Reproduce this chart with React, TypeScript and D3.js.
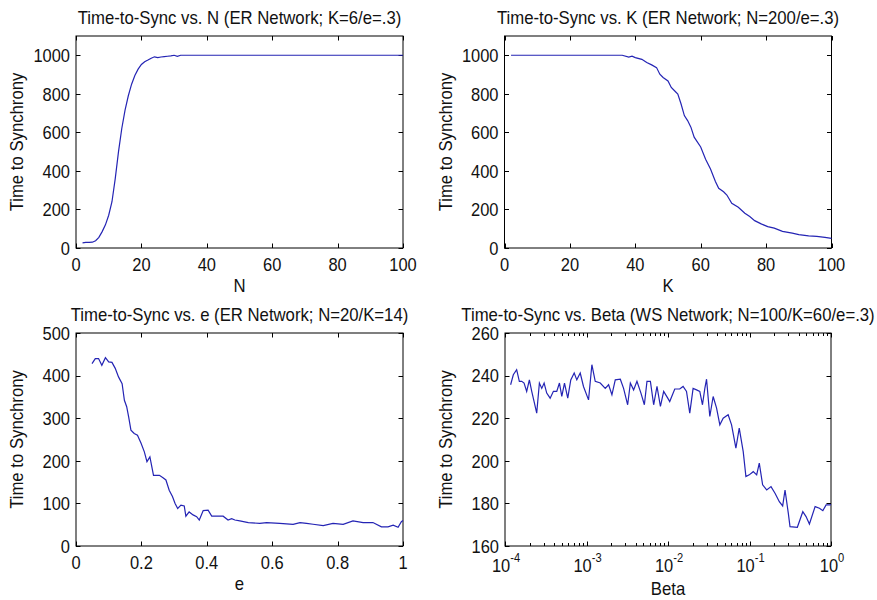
import { useEffect, useRef } from 'react';
import * as d3 from 'd3';

// panel 1: time to sync vs N (ER network, K=6, e=.3)
const nValues = [2, 3, 4, 5, 6, 7, 8, 9, 10, 11, 12, 13, 14, 15, 16, 17, 18, 19, 20, 21, 22, 23, 24, 25, 26, 27, 28, 29, 30, 31, 32, 100];
const nSync = [27, 29, 29, 30, 38, 55, 85, 120, 170, 240, 360, 500, 620, 715, 790, 850, 895, 928, 952, 966, 975, 985, 992, 988, 991, 993, 995, 997, 1000, 994, 1000, 1000];

// panel 2: time to sync vs K (ER network, N=200, e=.3)
const kValues = [2, 36, 38, 39, 40, 42, 43.5, 45, 46.5, 47.5, 48.5, 50, 51, 52, 53, 54, 55, 56, 57, 58, 60, 61.5, 63, 64.5, 65.5, 67, 68, 69.5, 71.5, 73.5, 75, 76.5, 78.5, 80.5, 82.5, 85, 88, 90, 93, 95.5, 98, 100];
const kSync = [1000, 1000, 991, 995, 988, 979, 962, 950, 936, 902, 885, 867, 833, 816, 799, 747, 687, 661, 627, 575, 524, 460, 410, 345, 310, 292, 275, 232, 211, 180, 163, 142, 125, 111, 103, 86, 77, 69, 63, 60, 55, 50];

// panel 3: time to sync vs e (ER network, N=20, K=14)
const eValues = [0.049, 0.059, 0.069, 0.079, 0.09, 0.1, 0.11, 0.12, 0.13, 0.141, 0.148, 0.155, 0.161, 0.168, 0.178, 0.188, 0.199, 0.209, 0.217, 0.226, 0.237, 0.255, 0.265, 0.275, 0.285, 0.295, 0.303, 0.311, 0.321, 0.331, 0.336, 0.346, 0.358, 0.369, 0.377, 0.389, 0.404, 0.415, 0.43, 0.45, 0.465, 0.476, 0.486, 0.501, 0.527, 0.562, 0.583, 0.623, 0.664, 0.685, 0.705, 0.725, 0.756, 0.786, 0.817, 0.847, 0.878, 0.908, 0.934, 0.954, 0.97, 0.985, 0.995, 1.0];
const eSync = [428, 440, 440, 424, 442, 432, 431, 417, 397, 381, 342, 327, 303, 272, 264, 260, 241, 221, 198, 209, 166, 166, 161, 155, 131, 116, 100, 88, 96, 94, 70, 80, 73, 69, 61, 83, 84, 70, 70, 70, 61, 64, 61, 59, 55, 53, 55, 53, 51, 55, 53, 51, 48, 53, 51, 59, 55, 55, 45, 45, 49, 44, 57, 60];

// panel 4: time to sync vs beta (WS network, N=100, K=60, e=.3), beta as log10
const betaExp = [
  -3.931, -3.898, -3.857, -3.824, -3.795, -3.766, -3.734, -3.701, -3.672, -3.643,
  -3.611, -3.578, -3.549, -3.52, -3.488, -3.446, -3.406, -3.365, -3.332, -3.303,
  -3.27, -3.23, -3.193, -3.151, -3.119, -3.077, -3.037, -2.975, -2.934, -2.893,
  -2.831, -2.77, -2.729, -2.688, -2.647, -2.585, -2.545, -2.495, -2.462, -2.422,
  -2.381, -2.332, -2.29, -2.258, -2.216, -2.176, -2.135, -2.093, -2.053, -2.003,
  -1.979, -1.917, -1.856, -1.815, -1.773, -1.733, -1.692, -1.65, -1.61, -1.577,
  -1.548, -1.527, -1.487, -1.446, -1.404, -1.364, -1.323, -1.262, -1.22, -1.167,
  -1.126, -1.077, -1.044, -1.003, -0.954, -0.912, -0.88, -0.839, -0.789, -0.736,
  -0.687, -0.634, -0.593, -0.564, -0.524, -0.503, -0.413, -0.346, -0.306, -0.265,
  -0.195, -0.142, -0.1, -0.06, -0.011, 0,
];
const betaSync = [
  235.7, 240.4, 242.8, 237.3, 237.3, 236.5, 232.6, 238, 232.6, 227.8,
  222.4, 236.5, 234, 236.5, 231.8, 229.4, 232.6, 232.6, 236.5, 230.2,
  236.5, 229.4, 238, 241.2, 238, 241.2, 234.9, 228.6, 245.1, 237.3,
  236.5, 234, 235.7, 231, 238, 238.3, 234, 226.3, 236.5, 233.3,
  237.3, 231.8, 226.3, 237.3, 237.3, 226.3, 234.9, 225.5, 232.6, 229.4,
  227.8, 233.7, 233.7, 234.9, 232.6, 222.4, 234, 233.3, 232.6, 226.3,
  234, 238.3, 220.8, 230.2, 224.7, 216.9, 220, 221.6, 216.9, 205.9,
  215.3, 204.3, 192.6, 193.4, 194.9, 193.4, 198.9, 188.7, 186.3, 187.9,
  184.8, 180.8, 178.8, 186.3, 175.4, 169.1, 168.8, 176.1, 173.8, 170.3,
  178.5, 177.7, 176.6, 179.3, 179.3, 179.5,
];

const xTicks100 = [0, 20, 40, 60, 80, 100];
const yTicks1000 = [0, 200, 400, 600, 800, 1000];
const eTicks = [0, 0.2, 0.4, 0.6, 0.8, 1];
const eSyncTicks = [0, 100, 200, 300, 400, 500];
const betaTicks = [-4, -3, -2, -1, 0];
const betaSyncTicks = [160, 180, 200, 220, 240, 260];

const FONT = '"Liberation Sans", Arial, Helvetica, sans-serif';
const LINE = '#2424b4';
const SQUEEZE = 0.89; // the source glyphs are taller than they are wide

type Panel = {
  box: [number, number, number, number];
  title: string;
  xLabel: string;
  xs: number[];
  ys: number[];
  xDomain: [number, number];
  yDomain: [number, number];
  xTicks: number[];
  yTicks: number[];
  log?: boolean;
};

const panels: Panel[] = [
  { box: [76, 36, 403, 248], title: 'Time-to-Sync vs. N (ER Network; K=6/e=.3)', xLabel: 'N',
    xs: nValues, ys: nSync, xDomain: [0, 100], yDomain: [0, 1100], xTicks: xTicks100, yTicks: yTicks1000 },
  { box: [504.5, 36, 831.5, 248], title: 'Time-to-Sync vs. K (ER Network; N=200/e=.3)', xLabel: 'K',
    xs: kValues, ys: kSync, xDomain: [0, 100], yDomain: [0, 1100], xTicks: xTicks100, yTicks: yTicks1000 },
  { box: [76, 333, 403, 546], title: 'Time-to-Sync vs. e (ER Network; N=20/K=14)', xLabel: 'e',
    xs: eValues, ys: eSync, xDomain: [0, 1], yDomain: [0, 500], xTicks: eTicks, yTicks: eSyncTicks },
  { box: [505, 333, 831, 546], title: 'Time-to-Sync vs. Beta (WS Network; N=100/K=60/e=.3)', xLabel: 'Beta',
    xs: betaExp.map(v => Math.pow(10, v)), ys: betaSync, xDomain: [1e-4, 1], yDomain: [160, 260],
    xTicks: betaTicks.map(v => Math.pow(10, v)), yTicks: betaSyncTicks, log: true },
];

function label(g: any, x: number, y: number, str: string, size: number, anchor: string, rot = 0) {
  return g.append('text')
    .attr('transform', `translate(${x},${y})${rot ? ` rotate(${rot})` : ''} scale(${SQUEEZE},1)`)
    .attr('text-anchor', anchor)
    .attr('font-size', size)
    .text(str);
}

function drawPanel(svg: any, p: Panel) {
  const [left, top, right, bottom] = p.box;
  const x: any = p.log
    ? d3.scaleLog().domain(p.xDomain).range([left, right])
    : d3.scaleLinear().domain(p.xDomain).range([left, right]);
  const y = d3.scaleLinear().domain(p.yDomain).range([bottom, top]);
  const g = svg.append('g').attr('font-family', FONT).attr('fill', '#111');

  g.append('rect')
    .attr('x', left).attr('y', top)
    .attr('width', right - left).attr('height', bottom - top)
    .attr('fill', '#fff');

  const tick = 4.5;
  // x ticks, bottom and top, pointing inward
  p.xTicks.forEach((t: number) => {
    const px = Math.round(x(t)) + 0.5;
    g.append('line').attr('x1', px).attr('x2', px).attr('y1', bottom).attr('y2', bottom - tick).attr('stroke', '#000');
    g.append('line').attr('x1', px).attr('x2', px).attr('y1', top).attr('y2', top + tick).attr('stroke', '#000');
  });
  if (p.log) {
    const minor: number[] = [];
    betaTicks.slice(0, -1).forEach(e => {
      for (let m = 2; m < 10; m++) minor.push(m * Math.pow(10, e));
    });
    minor.forEach(t => {
      const px = Math.round(x(t)) + 0.5;
      g.append('line').attr('x1', px).attr('x2', px).attr('y1', bottom).attr('y2', bottom - 3).attr('stroke', '#000');
      g.append('line').attr('x1', px).attr('x2', px).attr('y1', top).attr('y2', top + 3).attr('stroke', '#000');
    });
    betaTicks.forEach(e => {
      const txt = label(g, x(Math.pow(10, e)) + 1, bottom + 26, '10', 18.5, 'middle');
      txt.append('tspan').attr('dy', -10).attr('font-size', 12.5).text(String(e));
    });
  } else {
    p.xTicks.forEach((t: number) => {
      label(g, x(t), bottom + 23, d3.format('~g')(t), 18.5, 'middle');
    });
  }

  // y ticks, left and right
  p.yTicks.forEach((t: number) => {
    const py = Math.round(y(t)) + 0.5;
    g.append('line').attr('x1', left).attr('x2', left + tick).attr('y1', py).attr('y2', py).attr('stroke', '#000');
    g.append('line').attr('x1', right).attr('x2', right - tick).attr('y1', py).attr('y2', py).attr('stroke', '#000');
    label(g, left - 6, y(t) + 6.7, String(t), 18.5, 'end');
  });

  g.append('rect')
    .attr('x', left).attr('y', top)
    .attr('width', right - left).attr('height', bottom - top)
    .attr('fill', 'none').attr('stroke', '#000').attr('stroke-width', 1);

  const line = d3.line<number>()
    .x(d => x(d))
    .y((d, i) => y(p.ys[i]));

  g.append('path')
    .datum(p.xs)
    .attr('fill', 'none')
    .attr('stroke', LINE)
    .attr('stroke-width', 1.2)
    .attr('d', line);

  label(g, (left + right) / 2, top - 12.5, p.title, 18.8, 'middle');
  label(g, (left + right) / 2, bottom + (p.log ? 49 : 44), p.xLabel, 18.8, 'middle');
  label(g, left - 53, (top + bottom) / 2, 'Time to Synchrony', 18.8, 'middle', -90);
}

export default function App() {
  const svgRef = useRef<SVGSVGElement>(null);

  useEffect(() => {
    const svg = d3.select(svgRef.current);
    svg.selectAll('*').remove();
    svg.append('rect').attr('width', 877).attr('height', 600).attr('fill', '#fff');
    panels.forEach(p => drawPanel(svg, p));
  }, []);

  return (
    <svg ref={svgRef} width={877} height={600} viewBox="0 0 877 600"
      style={{ position: 'absolute', left: 0, top: 0, display: 'block' }} />
  );
}
